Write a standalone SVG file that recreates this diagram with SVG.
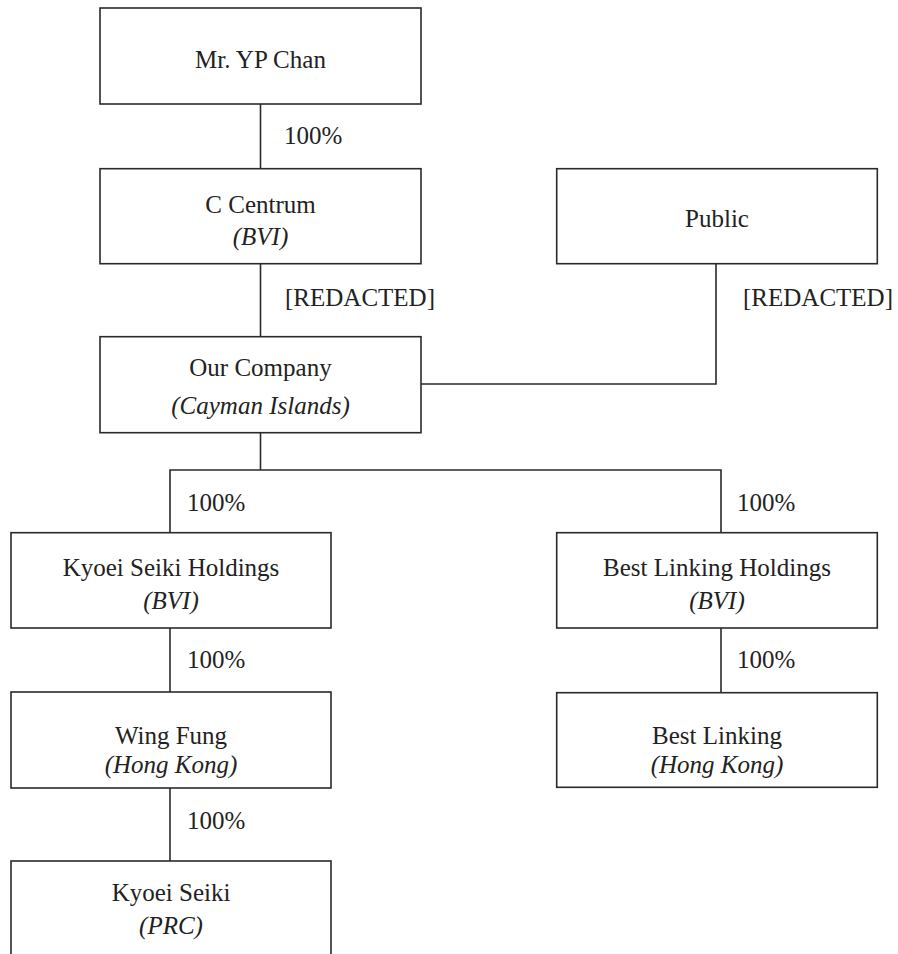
<svg xmlns="http://www.w3.org/2000/svg" width="898" height="954" viewBox="0 0 898 954">
<style>
.box{fill:#fff;stroke:#2a2a2a;stroke-width:1.6}
.ln{fill:none;stroke:#2a2a2a;stroke-width:1.6}
text{font-family:"Liberation Serif","Times New Roman",serif;font-size:25px;fill:#222}
.c{text-anchor:middle}
.i{font-style:italic}
</style>
<rect width="898" height="954" fill="#fff"/>
<g id="connectors">
<path class="ln" d="M260.5 104V168.7"/>
<path class="ln" d="M260.5 263.7V336.7"/>
<path class="ln" d="M716 263.7V384H421"/>
<path class="ln" d="M260.5 432.7V470"/>
<path class="ln" d="M170 532.7V470H721V532.7"/>
<path class="ln" d="M170 628V692"/>
<path class="ln" d="M721 628V692.7"/>
<path class="ln" d="M170 788V861"/>
<text x="284" y="144">100%</text>
<text x="285" y="306">[REDACTED]</text>
<text x="743" y="306">[REDACTED]</text>
<text x="187" y="511">100%</text>
<text x="737" y="511">100%</text>
<text x="187" y="668">100%</text>
<text x="737" y="668">100%</text>
<text x="187" y="829">100%</text>
</g>
<g id="n-ypchan">
<rect class="box" x="100" y="8" width="321" height="96"/>
<text class="c" x="260.5" y="68">Mr. YP Chan</text>
</g>
<g id="n-ccentrum">
<rect class="box" x="100" y="168.7" width="321" height="95"/>
<text class="c" x="260.5" y="212.7">C Centrum</text>
<text class="c i" x="260.5" y="245">(BVI)</text>
</g>
<g id="n-public">
<rect class="box" x="556.7" y="168.7" width="320.6" height="95"/>
<text class="c" x="717" y="227">Public</text>
</g>
<g id="n-company">
<rect class="box" x="100" y="336.7" width="321" height="96"/>
<text class="c" x="260.5" y="376">Our Company</text>
<text class="c i" x="260.5" y="414">(Cayman Islands)</text>
</g>
<g id="n-kyoeiholdings">
<rect class="box" x="11" y="532.7" width="320" height="95.3"/>
<text class="c" x="171" y="576">Kyoei Seiki Holdings</text>
<text class="c i" x="171" y="609">(BVI)</text>
</g>
<g id="n-bestholdings">
<rect class="box" x="556.7" y="532.7" width="320.6" height="95.3"/>
<text class="c" x="717" y="576">Best Linking Holdings</text>
<text class="c i" x="717" y="609">(BVI)</text>
</g>
<g id="n-wingfung">
<rect class="box" x="11" y="692" width="320" height="96"/>
<text class="c" x="171" y="744">Wing Fung</text>
<text class="c i" x="171" y="773">(Hong Kong)</text>
</g>
<g id="n-bestlinking">
<rect class="box" x="556.7" y="692.7" width="320.6" height="94.6"/>
<text class="c" x="717" y="744">Best Linking</text>
<text class="c i" x="717" y="773">(Hong Kong)</text>
</g>
<g id="n-kyoei">
<rect class="box" x="11" y="861" width="320" height="110"/>
<text class="c" x="171" y="901">Kyoei Seiki</text>
<text class="c i" x="171" y="934">(PRC)</text>
</g>
</svg>
